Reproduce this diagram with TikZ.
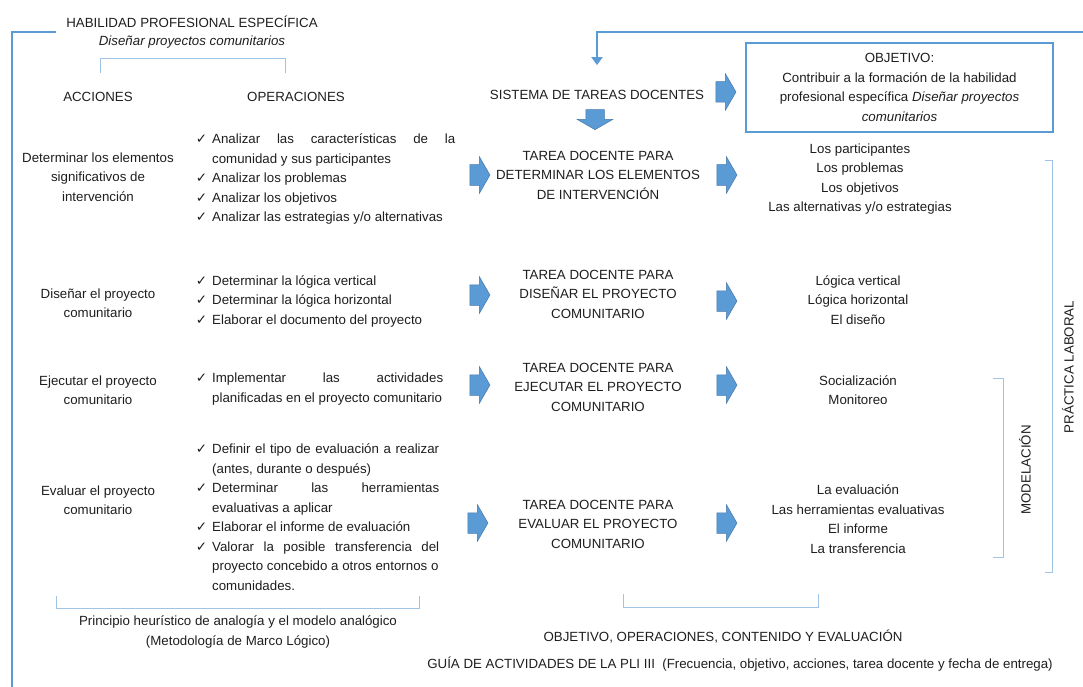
\documentclass[tikz,border=0pt]{standalone}
\usepackage{fontspec}
\setmainfont{Liberation Sans}
\newfontfamily\symfont{DejaVu Sans}
\usetikzlibrary{positioning, shapes.arrows, arrows.meta}
\definecolor{arrowblue}{RGB}{91,155,213}
\definecolor{arrowedge}{RGB}{70,120,170}
\definecolor{bracketblue}{RGB}{160,196,230}
\definecolor{textgray}{RGB}{30,30,30}
\newcommand{\chk}{\llap{{\symfont\fontsize{13.5}{12}\selectfont ✓}\hspace{5pt}}}
\newcommand{\spread}[2]{\makebox[#1][s]{#2}}

\begin{document}
\begin{tikzpicture}[x=1pt, y=-1pt,
  every node/.style={font=\fontsize{13.3}{19.5}\selectfont, text=textgray, inner sep=0pt},
  col/.style={align=center},
  ops/.style={align=left, anchor=west},
  blk/.style={single arrow, draw=arrowedge, fill=arrowblue, line width=0.5pt,
              inner xsep=0pt, inner ysep=10pt, minimum height=20pt,
              single arrow head extend=8pt, single arrow tip angle=120},
  brk/.style={draw=bracketblue, line width=0.9pt},
  rail/.style={draw=arrowblue, line width=2.6pt}
]
  \useasboundingbox (0,0) rectangle (1083,687);

  \node (hab) at (192,22) {HABILIDAD PROFESIONAL ESPECÍFICA};
  \node (dis) at (192,42) {\itshape Diseñar proyectos comunitarios};
  \coordinate (lt) at (56,32);
  \draw[rail] (lt) -- (12,32) -- (12,687);
  \draw[brk] (100,73) -- (100,58) -- (285,58) -- (285,73);

  \node (acc) at (98,97) {ACCIONES};
  \node (ope) at (296,97) {OPERACIONES};
  \node (sis) at (597,95) {SISTEMA DE TAREAS DOCENTES};
  \coordinate (tr) at (1083,32);
  \draw[rail, -{Triangle[width=11pt, length=8pt]}, shorten >=25pt] (tr) -| (sis.north);

  \node[blk] (s1) at (723,92) {};
  \node[blk, rotate=-90, inner ysep=9pt, single arrow head extend=8.5pt] (sd) at (595,117) {};
  \node[draw=arrowblue, line width=1.2pt, minimum width=307pt, minimum height=89pt,
        align=center] (obj) at (899.5,87.5)
    {OBJETIVO:\\Contribuir a la formación de la habilidad\\
     profesional específica \textit{Diseñar proyectos}\\\textit{comunitarios}};

  \node[col] (c1) at (98,177) {Determinar los elementos\\significativos de\\intervención};
  \node[ops] (o1) at (212,179)
    {\chk\spread{243pt}{Analizar las características de la}\\comunidad y sus participantes\\
     \chk Analizar los problemas\\\chk Analizar los objetivos\\
     \chk Analizar las estrategias y/o alternativas};
  \node[blk] (a1) at (477,175) {};
  \node[col] (t1) at (598,175) {TAREA DOCENTE PARA\\DETERMINAR LOS ELEMENTOS\\DE INTERVENCIÓN};
  \node[blk] (b1) at (724,175) {};
  \node[col] (r1) at (860,179)
    {Los participantes\\Los problemas\\Los objetivos\\Las alternativas y/o estrategias};

  \node[col] (c2) at (98,303) {Diseñar el proyecto\\comunitario};
  \node[ops] (o2) at (212,301)
    {\chk Determinar la lógica vertical\\\chk Determinar la lógica horizontal\\
     \chk Elaborar el documento del proyecto};
  \node[blk] (a2) at (477,295) {};
  \node[col] (t2) at (598,294) {TAREA DOCENTE PARA\\DISEÑAR EL PROYECTO\\COMUNITARIO};
  \node[blk] (b2) at (724,301) {};
  \node[col] (r2) at (858,300) {Lógica vertical\\Lógica horizontal\\El diseño};

  \node[col] (c3) at (98,390) {Ejecutar el proyecto\\comunitario};
  \node[ops] (o3) at (212,389)
    {\chk\spread{231pt}{Implementar las actividades}\\planificadas en el proyecto comunitario};
  \node[blk] (a3) at (477,385) {};
  \node[col] (t3) at (598,387) {TAREA DOCENTE PARA\\EJECUTAR EL PROYECTO\\COMUNITARIO};
  \node[blk] (b3) at (724,385) {};
  \node[col] (r3) at (858,390) {Socialización\\Monitoreo};

  \node[col] (c4) at (98,500) {Evaluar el proyecto\\comunitario};
  \node[ops] (o4) at (212,517)
    {\chk\spread{227pt}{Definir el tipo de evaluación a realizar}\\(antes, durante o después)\\
     \chk\spread{227pt}{Determinar las herramientas}\\evaluativas a aplicar\\
     \chk Elaborar el informe de evaluación\\
     \chk\spread{227pt}{Valorar la posible transferencia del}\\
     proyecto concebido a otros entornos o\\comunidades.};
  \node[blk] (a4) at (475,523) {};
  \node[col] (t4) at (598,524) {TAREA DOCENTE PARA\\EVALUAR EL PROYECTO\\COMUNITARIO};
  \node[blk] (b4) at (724,523) {};
  \node[col] (r4) at (858,519)
    {La evaluación\\Las herramientas evaluativas\\El informe\\La transferencia};

  \draw[brk] (1045,160) -- (1052,160) -- (1052,572) -- (1045,572);
  \node[rotate=90] (pl) at (1068,367) {PRÁCTICA LABORAL};
  \draw[brk] (993,378) -- (1003,378) -- (1003,557) -- (993,557);
  \node[rotate=90] (mo) at (1025,470) {MODELACIÓN};

  \draw[brk] (56,596) -- (56,608) -- (419,608) -- (419,596);
  \node[col] (ph) at (238,632)
    {Principio heurístico de analogía y el modelo analógico\\(Metodología de Marco Lógico)};
  \draw[brk] (623,594) -- (623,607) -- (818,607) -- (818,594);
  \node (oc) at (723,637) {OBJETIVO, OPERACIONES, CONTENIDO Y EVALUACIÓN};
  \node (gu) at (740,664)
    {GUÍA DE ACTIVIDADES DE LA PLI III\ \ (Frecuencia, objetivo, acciones, tarea docente y fecha de entrega)};
\end{tikzpicture}
\end{document}
